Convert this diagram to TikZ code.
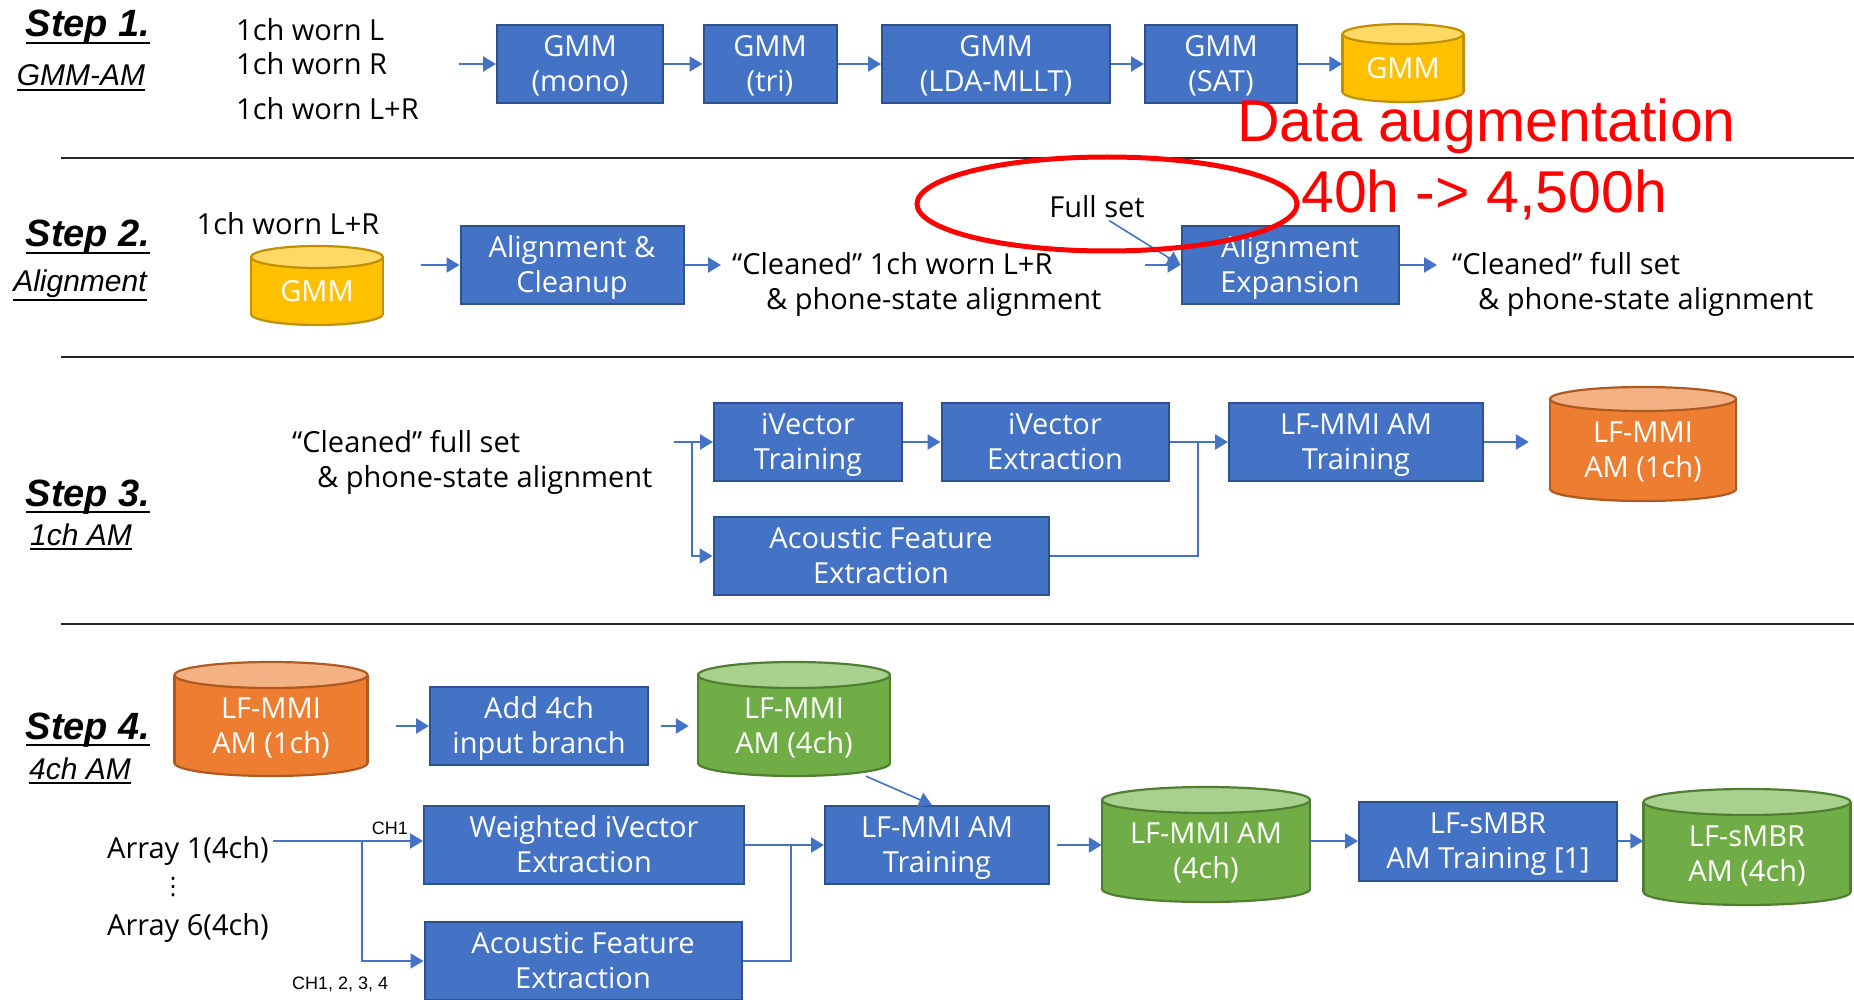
\documentclass[tikz,border=0pt]{standalone}
\usepackage{fontspec}
\setmainfont{Open Sans}
\newfontfamily\arialf{Liberation Sans}
\newfontfamily\symf{DejaVu Sans}
\usetikzlibrary{arrows.meta}

\definecolor{boxblue}{HTML}{4472C4}
\definecolor{boxedge}{HTML}{2F528F}
\definecolor{yelbody}{HTML}{FFC000}
\definecolor{yeltop}{HTML}{FFD966}
\definecolor{yeledge}{HTML}{BF9000}
\definecolor{orabody}{HTML}{ED7D31}
\definecolor{oratop}{HTML}{F4B183}
\definecolor{oraedge}{HTML}{AE5A21}
\definecolor{grnbody}{HTML}{70AD47}
\definecolor{grntop}{HTML}{A9D18E}
\definecolor{grnedge}{HTML}{507E32}
\definecolor{hotred}{HTML}{FF0000}

% invisible struts: a fixed height for the first line and a fixed depth for
% the last line, so that every two-line box text sits the same way
\newcommand{\topstrut}{\rule{0pt}{1.0em}}
\newcommand{\botstrut}{\rule[-0.3em]{0pt}{0.3em}}
\newcommand{\twolines}[2]{\topstrut#1\\#2\botstrut}

% database drum: name, centre x, top y, bottom y, width, end radius, colour set, text
\newcommand{\dbdrum}[8]{%
  \pgfmathsetmacro\dhw{#5/2}%
  \pgfmathsetmacro\dyt{#3+#6}%
  \pgfmathsetmacro\dyb{#4-#6}%
  \pgfmathsetmacro\dtc{(#3+#6+#4)/2}%
  \pgfmathsetmacro\dnh{2*(#4-\dtc)}%
  \path[fill=#7body, draw=#7edge, line width=2.2pt] (#2,\dyb) ellipse [x radius=\dhw, y radius=#6];
  \fill[#7body] (#2-\dhw,\dyt) rectangle (#2+\dhw,\dyb);
  \draw[#7edge, line width=2.2pt] (#2-\dhw,\dyt) -- (#2-\dhw,\dyb) (#2+\dhw,\dyt) -- (#2+\dhw,\dyb);
  \path[fill=#7top, draw=#7edge, line width=2.2pt] (#2,\dyt) ellipse [x radius=\dhw, y radius=#6];
  \node[drumtext, minimum width=#5pt, minimum height=\dnh pt] (#1) at (#2,\dtc) {#8};
}

\begin{document}
\begin{tikzpicture}[x=1pt,y=-1pt,
  proc/.style={rectangle, fill=boxblue, draw=boxedge, line width=2pt, text=white,
    align=center, font=\fontsize{29}{35}\selectfont, inner sep=0pt, minimum height=78pt},
  drumtext/.style={rectangle, draw=none, text=white, align=center, inner sep=0pt,
    font=\fontsize{29}{35}\selectfont},
  lbl/.style={font=\fontsize{29}{35}\selectfont, inner sep=0pt},
  chlbl/.style={font=\arialf\fontsize{18}{20}\selectfont, inner sep=0pt},
  steplbl/.style={font=\arialf\bfseries\itshape\fontsize{38}{40}\selectfont, inner sep=0pt, anchor=base},
  subl/.style={font=\arialf\itshape\fontsize{30}{32}\selectfont, inner sep=0pt, anchor=base},
  redlbl/.style={font=\arialf\fontsize{59}{62}\selectfont, text=hotred, inner sep=0pt, anchor=base west},
  uline/.style={draw=black, line width=2pt},
  sepline/.style={draw=black!85, line width=2pt},
  arr/.style={draw=boxblue, line width=2.4pt, -{Triangle[length=13pt,width=15pt]}},
  thinarr/.style={draw=boxblue, line width=1.6pt, -{Triangle[length=13pt,width=15pt]}},
  thinline/.style={draw=boxblue, line width=1.6pt},
]
\useasboundingbox (0,0) rectangle (1854,1000);
\fill[white] (0,0) rectangle (1854,1000);

% ---------------- section separators
\draw[sepline] (61,158) -- (1854,158);
\draw[sepline] (61,357) -- (1854,357);
\draw[sepline] (61,624) -- (1854,624);

% ---------------- Step 1: GMM-AM
\node[steplbl] (s1) at (88,37) {Step 1.};
\node[subl] (g1) at (81,86) {GMM-AM};
\draw[uline] ([yshift=-6pt]s1.base west) -- ([yshift=-6pt]s1.base east);
\draw[uline] ([yshift=-4pt]g1.base west) -- ([yshift=-4pt]g1.base east);

\node[lbl, anchor=base west] (w1) at (236,41) {1ch worn L};
\node[lbl, anchor=base west] (w2) at (236,75) {1ch worn R};
\node[lbl, anchor=base west] (w3) at (236,120) {1ch worn L+R};

\node[proc, minimum width=166pt] (m1) at (580,64) {\twolines{GMM}{(mono)}};
\node[proc, minimum width=133pt] (m2) at (770,64) {\twolines{GMM}{(tri)}};
\node[proc, minimum width=228pt] (m3) at (996,64) {\twolines{GMM}{(LDA-MLLT)}};
\node[proc, minimum width=152pt] (m4) at (1221,64) {\twolines{GMM}{(SAT)}};
\dbdrum{c1}{1403}{24}{102}{121}{10}{yel}{GMM}

\coordinate (in1) at (459,64);
\draw[arr] (in1) -- (m1.west);
\draw[arr] (m1) -- (m2);
\draw[arr] (m2) -- (m3);
\draw[arr] (m3) -- (m4);
\draw[arr] (m4.east) -- (m4.east -| c1.west);

% ---------------- Step 2: Alignment
\node[steplbl] (s2) at (88,247) {Step 2.};
\node[subl] (g2) at (80,291) {Alignment};
\draw[uline] ([yshift=-6pt]s2.base west) -- ([yshift=-6pt]s2.base east);
\draw[uline] ([yshift=-9pt]g2.base west) -- ([yshift=-9pt]g2.base east);

\node[lbl, anchor=base] (w4) at (288,235) {1ch worn L+R};
\dbdrum{c2}{317}{246}{325}{132}{11}{yel}{GMM}

\node[proc, minimum width=223pt] (a1) at (572,265) {\twolines{Alignment \&}{Cleanup}};
\draw[arr, shorten <=38pt] (c2.east |- a1.west) -- (a1.west);
\coordinate (o2) at (721,265);
\draw[arr] (a1.east) -- (o2);
\node[lbl, anchor=base west] (t2a) at (732,275) {“Cleaned” 1ch worn L+R};
\node[lbl, anchor=base west] (t2b) at (766,309) {\& phone-state alignment};

\node[lbl, anchor=base] (fs) at (1097,218) {Full set};
\node[proc, minimum width=217pt] (a2) at (1290,265) {\twolines{Alignment}{Expansion}};
\coordinate (i2) at (1145,265);
\draw[arr] (i2) -- (a2.west);
\draw[thinarr] ([xshift=12pt,yshift=-2pt]fs.south) -- (a2.west);
\coordinate (o3) at (1437,265);
\draw[arr] (a2.east) -- (o3);
\node[lbl, anchor=base west] (t2c) at (1452,275) {“Cleaned” full set};
\node[lbl, anchor=base west] (t2d) at (1478,309) {\& phone-state alignment};

% data augmentation note
\draw[hotred, line width=5pt] (1107,204) ellipse [x radius=190, y radius=47];
\node[redlbl] (da) at (1237,142) {Data augmentation};
\node[redlbl] (dh) at (1301,213) {40h -> 4,500h};

% ---------------- Step 3: 1ch AM
\node[steplbl] (s3) at (88,506) {Step 3.};
\node[subl] (g3) at (81,545) {1ch AM};
\draw[uline] ([yshift=-6pt]s3.base west) -- ([yshift=-6pt]s3.base east);
\draw[uline] ([yshift=-4pt]g3.base west) -- ([yshift=-4pt]g3.base east);

\node[lbl, anchor=base west] (t3a) at (292,452) {“Cleaned” full set};
\node[lbl, anchor=base west] (t3b) at (317,487) {\& phone-state alignment};

\node[proc, minimum width=188pt] (b1) at (808,442) {\twolines{iVector}{Training}};
\node[proc, minimum width=227pt] (b2) at (1055,442) {\twolines{iVector}{Extraction}};
\node[proc, minimum width=254pt] (b4) at (1356,442) {\twolines{LF-MMI AM}{Training}};
\node[proc, minimum width=335pt] (b3) at (881,556) {\twolines{Acoustic Feature}{Extraction}};
\dbdrum{c3}{1643}{387}{501}{186}{12}{ora}{\twolines{LF-MMI}{AM (1ch)}}

\coordinate (i3) at (674,442);
\coordinate (j3) at (692,442);
\coordinate (k3) at (1198,442);
\draw[arr] (i3) -- (b1.west);
\draw[thinarr] (j3) |- (b3.west);
\draw[arr] (b1) -- (b2);
\draw[arr] (b2) -- (b4);
\draw[thinline] (b3.east) -| (k3);
\draw[arr, shorten >=21pt] (b4.east) -- (b4.east -| c3.west);

% ---------------- Step 4: 4ch AM
\node[steplbl] (s4) at (88,739) {Step 4.};
\node[subl] (g4) at (80,779) {4ch AM};
\draw[uline] ([yshift=-6pt]s4.base west) -- ([yshift=-6pt]s4.base east);
\draw[uline] ([yshift=-4pt]g4.base west) -- ([yshift=-4pt]g4.base east);

\dbdrum{c4}{271}{662}{776}{193}{13}{ora}{\twolines{LF-MMI}{AM (1ch)}}
\node[proc, minimum width=218pt] (d1) at (539,726) {\twolines{Add 4ch}{input branch}};
\dbdrum{c5}{794}{662}{776}{192}{13}{grn}{\twolines{LF-MMI}{AM (4ch)}}
\draw[arr, shorten <=28pt] (c4.east |- d1.west) -- (d1.west);
\draw[arr, shorten <=12pt, shorten >=9pt] (d1.east) -- (d1.east -| c5.west);

\node[lbl, anchor=base east] (ar1) at (269,858) {Array 1(4ch)};
\node[font=\symf\fontsize{24}{26}\selectfont, inner sep=0pt] (vd) at (173,887) {⋮};
\node[lbl, anchor=base east] (ar6) at (269,935) {Array 6(4ch)};

\node[proc, minimum width=320pt] (d2) at (584,845) {\twolines{Weighted iVector}{Extraction}};
\node[proc, minimum width=317pt] (d2b) at (583,961) {\twolines{Acoustic Feature}{Extraction}};
\node[proc, minimum width=224pt] (d3) at (937,845) {\twolines{LF-MMI AM}{Training}};

\coordinate (i4) at (273,841);
\coordinate (j4) at (362,841);
\coordinate (k4) at (791,845);
\draw[arr] (i4) -- (i4 -| d2.west);
\draw[thinarr] (j4) |- (d2b.west);
\node[chlbl, anchor=base east] (ch1) at (408,834) {CH1};
\node[chlbl, anchor=base west] (ch4) at (292,989) {CH1, 2, 3, 4};
\draw[arr] (d2.east) -- (d3.west);
\draw[thinline] (d2b.east) -| (k4);
\draw[thinarr] ([xshift=72pt]c5.south) -- ([xshift=-5pt]d3.north);

\dbdrum{c6}{1206}{787}{902}{208}{13}{grn}{\twolines{LF-MMI AM}{(4ch)}}
\node[proc, minimum width=258pt, minimum height=79pt] (d4) at (1488,841) {\twolines{LF-sMBR}{AM Training [1]}};
\dbdrum{c7}{1747}{789}{905}{207}{13}{grn}{\twolines{LF-sMBR}{AM (4ch)}}

\draw[arr, shorten <=7pt] (d3.east) -- (d3.east -| c6.west);
\draw[arr] (d4.west -| c6.east) -- (d4.west);
\draw[arr] (d4.east) -- (d4.east -| c7.west);
\end{tikzpicture}
\end{document}
